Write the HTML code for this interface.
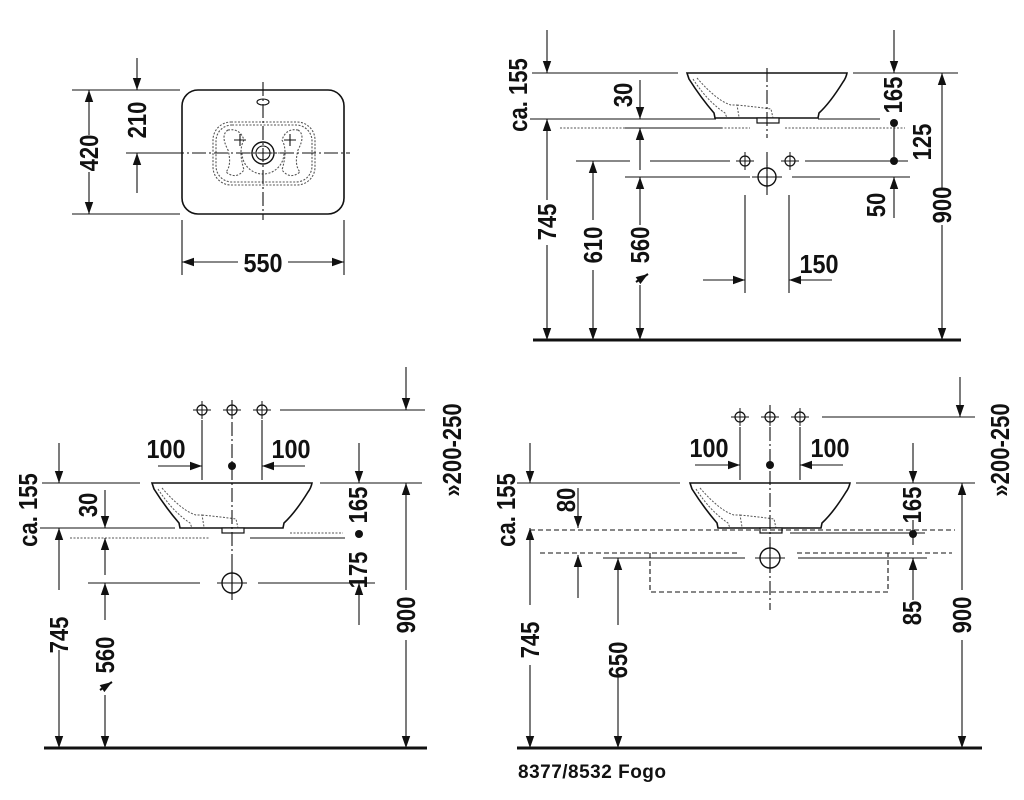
<!DOCTYPE html>
<html><head><meta charset="utf-8"><style>
html,body{margin:0;padding:0;background:#fff}
svg{display:block}
text{font-family:"Liberation Sans",sans-serif;font-weight:bold;fill:#111}
.t{font-size:26px}
</style></head><body>
<svg width="1024" height="800" viewBox="0 0 1024 800" xmlns="http://www.w3.org/2000/svg">
<defs>
<marker id="a" viewBox="0 0 10 10" refX="10" refY="5" markerWidth="12" markerHeight="12" markerUnits="userSpaceOnUse" orient="auto"><path d="M0,1.5 L10,5 L0,8.5 Z" fill="#111"/></marker>
<g id="basin">
<path d="M-80,0 L80,0 Q79,5 76,9 Q63,30 52,40 L51,45 L-52,45 L-53,40 Q-66,25 -78,6 Z" fill="#fff" stroke="#111" stroke-width="1.6"/>
<path d="M-74,6 Q-60,28 -42,40 L-40,45 M-70,5 Q-50,28 -36,32 L-30,32 L-28,44 M-30,32 Q-10,34 4,36 L6,45" fill="none" stroke="#555" stroke-width="1" stroke-dasharray="2,1.5"/>
<rect x="-10" y="45" width="22" height="5" fill="#fff" stroke="#111" stroke-width="1.2"/>
</g>
<g id="tap"><circle r="5" fill="none" stroke="#111" stroke-width="1.2"/><path d="M-9,0H9M0,-9V9" stroke="#111" stroke-width="1"/></g>
</defs>

<g stroke="#111" stroke-width="1.1" fill="none">
<!-- PANEL 1 -->
<rect x="182" y="90" width="162" height="124" rx="16" stroke-width="1.6"/>
<rect x="213" y="122" width="102" height="63" rx="18" stroke="#555" stroke-dasharray="2,1.5"/>
<rect x="216" y="125" width="96" height="57" rx="16" stroke="#555" stroke-dasharray="2,1.5"/>
<path d="M242,153 A21,21 0 0 0 284,153 Z" stroke="#555" stroke-dasharray="2,1.5"/>
<path d="M228,130 Q220,135 228,150 Q232,165 226,172 Q236,180 244,170 Q238,150 244,140 Q240,128 228,130 Z" stroke="#555" stroke-dasharray="2,1.5"/>
<path d="M298,130 Q306,135 298,150 Q294,165 300,172 Q290,180 282,170 Q288,150 282,140 Q286,128 298,130 Z" stroke="#555" stroke-dasharray="2,1.5"/>
<circle cx="263" cy="153" r="11" stroke-width="1.4"/><circle cx="263" cy="153" r="7"/>
<path d="M234,140h12M240,134v12M284,140h12M290,134v12"/>
<ellipse cx="263" cy="102" rx="6" ry="3"/>
<path d="M263,82V220M126,153H350" stroke-dasharray="14,3,2,3"/>
<path d="M72,90H180M72,214H180M126,153H180"/>
<path d="M89,135V90" marker-end="url(#a)"/><path d="M89,172V214" marker-end="url(#a)"/>
<path d="M137,58V90" marker-end="url(#a)"/><path d="M137,193V153" marker-end="url(#a)"/>
<path d="M182,220V275M344,220V275"/>
<path d="M238,262H182" marker-end="url(#a)"/><path d="M288,262H344" marker-end="url(#a)"/>

<!-- PANEL 2 -->
<path d="M533,340H961" stroke-width="3"/>
<use href="#basin" x="767" y="73"/>
<path d="M532,73H678M853,73H958M530,119H716M818,119H880"/>
<path d="M560,128H750M785,128H905" stroke="#555" stroke-dasharray="2,1.5"/>
<path d="M625,128H722"/>
<path d="M767,68V138M767,152V190" stroke-dasharray="14,3,2,3"/>
<path d="M576,161H630M650,161H730M805,161H908M625,177H750M792,177H910"/>
<use href="#tap" x="745" y="161"/><use href="#tap" x="790" y="161"/>
<circle cx="767" cy="177" r="9" stroke-width="1.4"/><path d="M752,177h30M767,165v30"/>
<path d="M547,30V73" marker-end="url(#a)"/>
<path d="M547,200V119" marker-end="url(#a)"/><path d="M547,245V340" marker-end="url(#a)"/>
<path d="M640,80V119" marker-end="url(#a)"/><path d="M640,170V128" marker-end="url(#a)"/>
<path d="M640,225V177" marker-end="url(#a)"/><path d="M640,285V340" marker-end="url(#a)"/>
<path d="M593,220V161" marker-end="url(#a)"/><path d="M593,270V340" marker-end="url(#a)"/>
<path d="M894,30V73" marker-end="url(#a)"/><path d="M894,123V161"/>
<path d="M894,218V177" marker-end="url(#a)"/>
<path d="M942,190V73" marker-end="url(#a)"/><path d="M942,225V340" marker-end="url(#a)"/>
<path d="M745,195V293M789,195V293"/>
<path d="M703,280H745" marker-end="url(#a)"/><path d="M832,280H789" marker-end="url(#a)"/>
<path d="M636,282L648,274" marker-end="url(#a)" stroke-width="2"/>

<!-- PANEL 3 -->
<path d="M44,748H427" stroke-width="3"/>
<use href="#basin" x="232" y="483"/>
<path d="M42,483H140M320,483H422M40,528H175M250,538H345"/>
<path d="M70,538H210M290,533H343" stroke="#555" stroke-dasharray="2,1.5"/>
<path d="M232,400V600" stroke-dasharray="14,3,2,3"/>
<use href="#tap" x="202" y="410"/><use href="#tap" x="232" y="410"/><use href="#tap" x="262" y="410"/>
<path d="M280,410H425M202,420V480M262,420V480"/>
<path d="M406,367V410" marker-end="url(#a)"/>
<path d="M158,466H202" marker-end="url(#a)"/><path d="M305,466H262" marker-end="url(#a)"/>
<path d="M88,583H200M258,583H375"/>
<circle cx="232" cy="583" r="10" stroke-width="1.4"/><path d="M217,583h30M232,568v30"/>
<path d="M59,443V483" marker-end="url(#a)"/>
<path d="M59,590V528" marker-end="url(#a)"/><path d="M59,650V748" marker-end="url(#a)"/>
<path d="M105,490V528" marker-end="url(#a)"/><path d="M105,575V538" marker-end="url(#a)"/>
<path d="M105,620V583" marker-end="url(#a)"/><path d="M105,695V748" marker-end="url(#a)"/>
<path d="M359,443V483" marker-end="url(#a)"/>
<path d="M359,625V583" marker-end="url(#a)"/>
<path d="M406,590V483" marker-end="url(#a)"/><path d="M406,640V748" marker-end="url(#a)"/>
<path d="M100,690L112,682" marker-end="url(#a)" stroke-width="2"/>

<!-- PANEL 4 -->
<path d="M517,748H982" stroke-width="3"/>
<use href="#basin" x="770" y="483"/>
<path d="M517,483H680M856,483H975M790,533H925M603,558H745M798,558H927"/>
<path d="M530,530H955M540,553H740M797,553H952" stroke-dasharray="5,3"/>
<path d="M650,553V592H888V553" stroke-dasharray="5,3"/>
<path d="M770,405V610" stroke-dasharray="14,3,2,3"/>
<use href="#tap" x="740" y="417"/><use href="#tap" x="770" y="417"/><use href="#tap" x="800" y="417"/>
<path d="M822,417H975M740,427V480M800,427V480"/>
<path d="M960,377V417" marker-end="url(#a)"/>
<path d="M695,465H740" marker-end="url(#a)"/><path d="M843,465H800" marker-end="url(#a)"/>
<circle cx="770" cy="558" r="10" stroke-width="1.4"/><path d="M755,558h30M770,543v30"/>
<path d="M530,443V483" marker-end="url(#a)"/>
<path d="M530,605V528" marker-end="url(#a)"/><path d="M530,665V748" marker-end="url(#a)"/>
<path d="M578,488V528" marker-end="url(#a)"/><path d="M578,598V555" marker-end="url(#a)"/>
<path d="M618,625V558" marker-end="url(#a)"/><path d="M618,675V748" marker-end="url(#a)"/>
<path d="M913,443V483" marker-end="url(#a)"/><path d="M913,520V545"/>
<path d="M913,600V558" marker-end="url(#a)"/>
<path d="M962,590V483" marker-end="url(#a)"/><path d="M962,640V748" marker-end="url(#a)"/>
</g>
<g fill="#111">
<circle cx="894" cy="123" r="4"/><circle cx="894" cy="161" r="4"/>
<circle cx="232" cy="466" r="4"/><circle cx="359" cy="534" r="4"/>
<circle cx="770" cy="465" r="4"/><circle cx="913" cy="534" r="4"/>
</g>

<g class="t" text-anchor="middle">
<text transform="translate(98,153) rotate(-90) scale(0.85,1)">420</text>
<text transform="translate(146,120) rotate(-90) scale(0.85,1)">210</text>
<text transform="translate(263,272) scale(0.9,1)">550</text>
<text transform="translate(527,95) rotate(-90) scale(0.85,1)">ca. 155</text>
<text transform="translate(632,95) rotate(-90) scale(0.85,1)">30</text>
<text transform="translate(556,222) rotate(-90) scale(0.85,1)">745</text>
<text transform="translate(602,245) rotate(-90) scale(0.85,1)">610</text>
<text transform="translate(649,245) rotate(-90) scale(0.85,1)">560</text>
<text transform="translate(902,95) rotate(-90) scale(0.85,1)">165</text>
<text transform="translate(931,142) rotate(-90) scale(0.85,1)">125</text>
<text transform="translate(885,205) rotate(-90) scale(0.85,1)">50</text>
<text transform="translate(951,205) rotate(-90) scale(0.85,1)">900</text>
<text transform="translate(819,273) scale(0.9,1)">150</text>
<text transform="translate(37,510) rotate(-90) scale(0.85,1)">ca. 155</text>
<text transform="translate(97,505) rotate(-90) scale(0.85,1)">30</text>
<text transform="translate(68,635) rotate(-90) scale(0.85,1)">745</text>
<text transform="translate(114,655) rotate(-90) scale(0.85,1)">560</text>
<text transform="translate(166,458) scale(0.9,1)">100</text>
<text transform="translate(291,458) scale(0.9,1)">100</text>
<text transform="translate(367,505) rotate(-90) scale(0.85,1)">165</text>
<text transform="translate(367,570) rotate(-90) scale(0.85,1)">175</text>
<text transform="translate(415,615) rotate(-90) scale(0.85,1)">900</text>
<text transform="translate(461,450) rotate(-90) scale(0.85,1)">»200-250</text>
<text transform="translate(515,510) rotate(-90) scale(0.85,1)">ca. 155</text>
<text transform="translate(575,500) rotate(-90) scale(0.85,1)">80</text>
<text transform="translate(539,640) rotate(-90) scale(0.85,1)">745</text>
<text transform="translate(627,660) rotate(-90) scale(0.85,1)">650</text>
<text transform="translate(709,457) scale(0.9,1)">100</text>
<text transform="translate(830,457) scale(0.9,1)">100</text>
<text transform="translate(921,505) rotate(-90) scale(0.85,1)">165</text>
<text transform="translate(921,613) rotate(-90) scale(0.85,1)">85</text>
<text transform="translate(971,615) rotate(-90) scale(0.85,1)">900</text>
<text transform="translate(1009,450) rotate(-90) scale(0.85,1)">»200-250</text>
</g>
<text x="518" y="778" style="font-size:19px;letter-spacing:0.5px">8377/8532 Fogo</text>
</svg>
</body></html>
